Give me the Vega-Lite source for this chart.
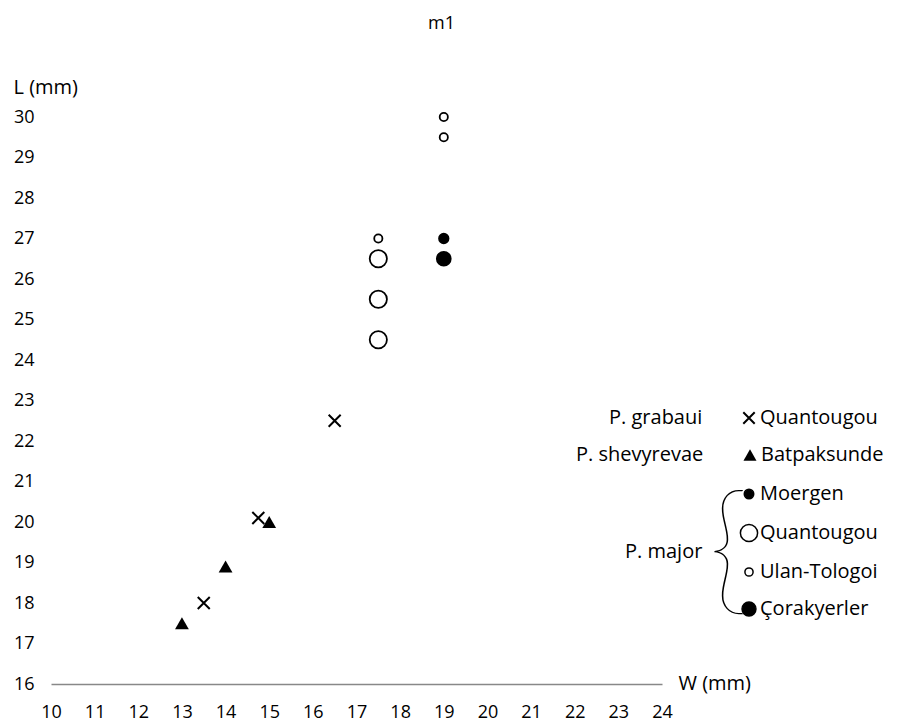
{
  "$schema": "https://vega.github.io/schema/vega-lite/v6.json",
  "width": 611,
  "height": 567,
  "autosize": {"type": "none"},
  "padding": {"left": 51, "top": 117, "right": 250, "bottom": 37},
  "title": {"text": "m1", "anchor": "middle", "frame": "group", "dx": 85, "offset": 44, "fontSize": 18, "font": "Open Sans", "fontWeight": "normal", "color": "black"},
  "config": {
    "view": {"stroke": null},
    "font": "Open Sans",
    "axis": {"grid": false, "ticks": false, "labelColor": "black", "titleColor": "black", "labelFont": "Open Sans", "titleFont": "Open Sans"},
    "legend": {"labelFont": "Open Sans", "titleFont": "Open Sans", "labelColor": "black", "titleColor": "black"}
  },
  "data": {
    "values": [
      {"species": "P. grabaui", "site": "Quantougou", "W": 13.5, "L": 18.0},
      {"species": "P. grabaui", "site": "Quantougou", "W": 14.75, "L": 20.1},
      {"species": "P. grabaui", "site": "Quantougou", "W": 16.5, "L": 22.5},
      {"species": "P. shevyrevae", "site": "Batpaksunde", "W": 13.0, "L": 17.5},
      {"species": "P. shevyrevae", "site": "Batpaksunde", "W": 14.0, "L": 18.9},
      {"species": "P. shevyrevae", "site": "Batpaksunde", "W": 15.0, "L": 20.0},
      {"species": "P. major", "site": "Quantougou", "W": 17.5, "L": 26.5},
      {"species": "P. major", "site": "Quantougou", "W": 17.5, "L": 25.5},
      {"species": "P. major", "site": "Quantougou", "W": 17.5, "L": 24.5},
      {"species": "P. major", "site": "Ulan-Tologoi", "W": 17.5, "L": 27.0},
      {"species": "P. major", "site": "Ulan-Tologoi", "W": 19.0, "L": 30.0},
      {"species": "P. major", "site": "Ulan-Tologoi", "W": 19.0, "L": 29.5},
      {"species": "P. major", "site": "Moergen", "W": 19.0, "L": 27.0},
      {"species": "P. major", "site": "Çorakyerler", "W": 19.0, "L": 26.5}
    ]
  },
  "encoding": {
    "x": {
      "field": "W", "type": "quantitative",
      "scale": {"domain": [10, 24], "nice": false, "zero": false},
      "axis": {
        "values": [10, 11, 12, 13, 14, 15, 16, 17, 18, 19, 20, 21, 22, 23, 24],
        "title": "W (mm)", "titleX": 627, "titleY": -1, "titleAlign": "left", "titleBaseline": "middle", "titleAngle": 0,
        "titleFontSize": 20, "titleFontWeight": "normal",
        "labelFontSize": 18, "labelPadding": 19, "labelFlush": false, "labelOverlap": false,
        "domainColor": "#888888", "domainWidth": 1.5
      }
    },
    "y": {
      "field": "L", "type": "quantitative",
      "scale": {"domain": [16, 30], "nice": false, "zero": false},
      "axis": {
        "values": [16, 17, 18, 19, 20, 21, 22, 23, 24, 25, 26, 27, 28, 29, 30],
        "title": "L (mm)", "titleX": -38, "titleY": -30, "titleAlign": "left", "titleBaseline": "middle", "titleAngle": 0,
        "titleFontSize": 20, "titleFontWeight": "normal",
        "labelFontSize": 18, "labelPadding": 17, "labelFlush": false, "labelOverlap": false,
        "domain": false
      }
    }
  },
  "layer": [
    {
      "transform": [{"filter": "datum.species === 'P. grabaui'"}],
      "mark": {"type": "point", "filled": false, "color": "black", "strokeWidth": 2, "opacity": 1, "size": 144},
      "encoding": {
        "shape": {
          "field": "site", "type": "nominal",
          "scale": {"domain": ["Quantougou"], "range": ["M-1,-1L1,1M-1,1L1,-1"]},
          "legend": {
            "title": "P. grabaui", "orient": "none", "legendX": 558, "legendY": 291,
            "titleOrient": "left", "titleAnchor": "middle", "titleBaseline": "middle", "titlePadding": 36,
            "titleFontSize": 20, "titleFontWeight": "normal", "labelFontSize": 20, "labelOffset": 1,
            "symbolStrokeColor": "black", "symbolStrokeWidth": 2, "symbolSize": 130, "padding": 0
          }
        }
      }
    },
    {
      "transform": [{"filter": "datum.species === 'P. shevyrevae'"}],
      "mark": {"type": "point", "filled": true, "color": "black", "opacity": 1, "size": 190},
      "encoding": {
        "shape": {
          "field": "site", "type": "nominal",
          "scale": {"domain": ["Batpaksunde"], "range": ["triangle-up"]},
          "legend": {
            "title": "P. shevyrevae", "orient": "none", "legendX": 525, "legendY": 328,
            "titleOrient": "left", "titleAnchor": "middle", "titleBaseline": "middle", "titlePadding": 36,
            "titleFontSize": 20, "titleFontWeight": "normal", "labelFontSize": 20, "labelOffset": 1,
            "symbolFillColor": "black", "symbolSize": 170, "padding": 0
          }
        }
      }
    },
    {
      "transform": [{"filter": "datum.species === 'P. major'"}],
      "mark": {"type": "point", "shape": "circle", "filled": true, "stroke": "black", "strokeWidth": 1.8, "opacity": 1},
      "encoding": {
        "fill": {
          "field": "site", "type": "nominal",
          "scale": {"domain": ["Moergen", "Quantougou", "Ulan-Tologoi", "Çorakyerler"], "range": ["black", "white", "white", "black"]},
          "legend": {
            "title": "P. major", "orient": "none", "legendX": 574, "legendY": 367,
            "titleOrient": "left", "titleAnchor": "middle", "titleBaseline": "middle", "titlePadding": 36,
            "titleFontSize": 20, "titleFontWeight": "normal", "labelFontSize": 20, "labelOffset": 1,
            "rowPadding": 17, "padding": 0,
            "symbolStrokeColor": "black", "symbolStrokeWidth": 1.5
          }
        },
        "size": {
          "field": "site", "type": "nominal",
          "scale": {"type": "ordinal", "domain": ["Moergen", "Quantougou", "Ulan-Tologoi", "Çorakyerler"], "range": [90, 296, 67, 193]}
        }
      }
    },
    {
      "transform": [{"filter": "datum.site === 'Moergen'"}],
      "mark": {"type": "text", "text": "{", "font": "Lato", "fontWeight": 100, "fontSize": 142, "align": "center", "baseline": "middle", "color": "black"},
      "encoding": {
        "x": {"datum": 25.52},
        "y": {"datum": 19.2}
      }
    }
  ],
  "resolve": {
    "scale": {"shape": "independent", "fill": "independent", "size": "independent"},
    "legend": {"shape": "independent", "fill": "independent", "size": "independent"}
  }
}
